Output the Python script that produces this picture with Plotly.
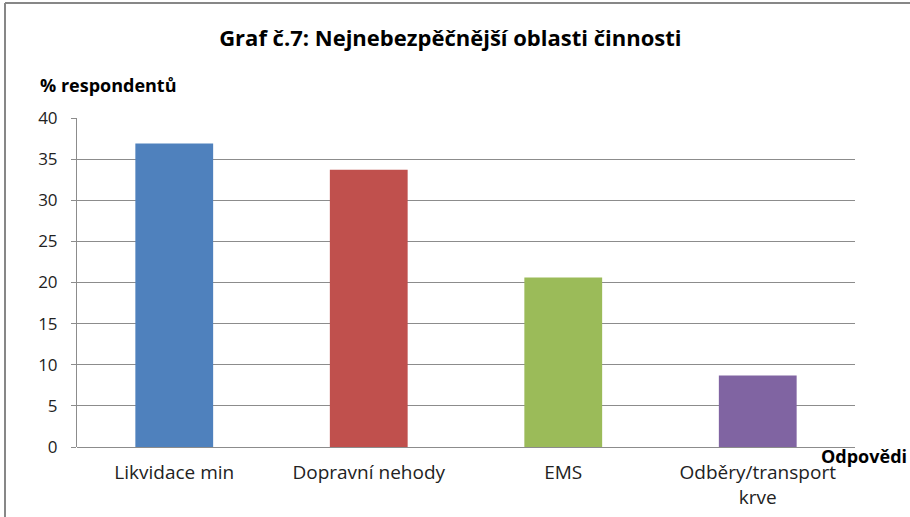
import plotly.graph_objects as go

categories = ["Likvidace min", "Dopravní nehody", "EMS", "Odběry/transport<br>krve"]
values = [36.9, 33.7, 20.6, 8.7]
colors = ["#4F81BD", "#C0504D", "#9BBB59", "#8064A2"]
y_ticks = [0, 5, 10, 15, 20, 25, 30, 35, 40]

L, R, T, B = 77, 55, 118, 70
W, H = 910, 517
pw, ph = W - L - R, H - T - B

def px(x):
    return (x - L) / pw

def py(y):
    return (H - B - y) / ph

FONT = "'Open Sans', sans-serif"

fig = go.Figure(go.Bar(x=categories, y=values, marker=dict(color=colors, line=dict(width=0)), width=0.4))

fig.update_layout(
    width=W, height=H,
    margin=dict(l=L, r=R, t=T, b=B, autoexpand=False),
    paper_bgcolor="white", plot_bgcolor="white",
    showlegend=False,
    font=dict(family=FONT, color="#000000"),
    title=dict(text="<b>Graf č.7: Nejnebezpěčnější oblasti činnosti</b>", x=px(462), xanchor="center",
               y=1 - 38 / H, yanchor="middle", font=dict(size=22, family=FONT, color="#000")),
    xaxis=dict(showgrid=False, showline=False, ticks="outside", ticklen=8, tickcolor="rgba(0,0,0,0)",
               automargin=False, tickfont=dict(size=19, family=FONT, color="#222")),
    yaxis=dict(range=[0, 40], tickvals=y_ticks, showgrid=True, gridcolor="#8c8c8c", gridwidth=1,
               showline=True, linecolor="#8c8c8c", linewidth=1, ticks="outside", ticklen=5,
               tickcolor="#8c8c8c", zeroline=True, zerolinecolor="#8c8c8c", zerolinewidth=1,
               ticklabelstandoff=10, automargin=False,
               tickfont=dict(size=17, family=FONT, color="#222")),
    annotations=[
        dict(text="<b>% respondentů</b>", xref="paper", yref="paper", x=px(38), y=py(85),
             xanchor="left", yanchor="middle", showarrow=False, font=dict(size=18, family=FONT, color="#000")),
        dict(text="<b>Odpovědi</b>", xref="paper", yref="paper", x=px(909), y=py(456),
             xanchor="right", yanchor="middle", showarrow=False, font=dict(size=18, family=FONT, color="#000")),
    ],
    shapes=[
        dict(type="line", xref="paper", yref="paper", x0=px(5), x1=px(910), y0=py(3), y1=py(3),
             line=dict(color="#878787", width=2), layer="above"),
        dict(type="line", xref="paper", yref="paper", x0=px(5), x1=px(5), y0=py(3), y1=py(517),
             line=dict(color="#878787", width=2), layer="above"),
    ],
)

fig.write_html("out.html", config={"displayModeBar": False},
               post_script="document.body.style.margin='0';document.body.style.padding='0';"
                           "document.body.style.overflow='hidden';")
